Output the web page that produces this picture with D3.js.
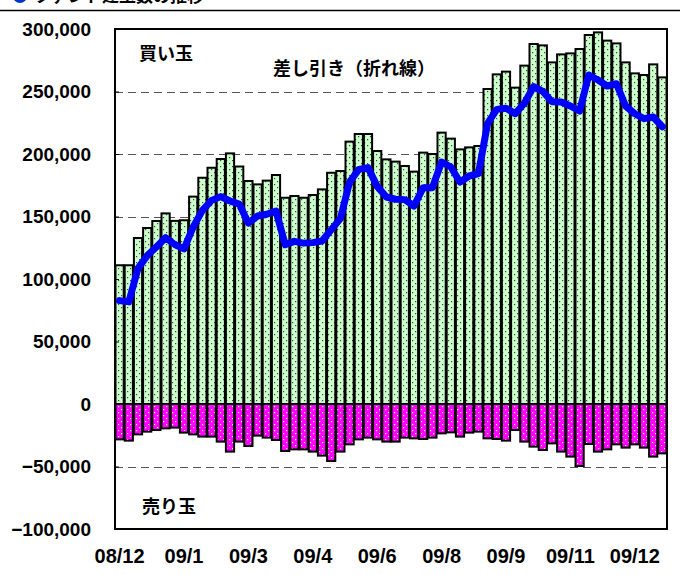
<!DOCTYPE html>
<html>
<head>
<meta charset="utf-8">
<script src="https://cdn.jsdelivr.net/npm/d3@7"></script>
<style>
  html, body { margin: 0; padding: 0; background: #fff; }
  svg { display: block; }
</style>
</head>
<body>
<div id="chart"></div>
<script>
// ---- data (weekly) ----
const buyPositions = [111000,111000,132800,140800,146400,152500,146500,147000,165900,181000,
  189000,196000,200500,190000,178400,175700,178700,183200,165000,166400,
  165000,167200,171700,185000,186400,209900,216000,216000,202400,195700,
  193900,190400,185900,201100,200000,217100,212300,203700,205300,206400,
  252000,263700,265900,253100,270700,288000,286900,273300,279700,280500,
  284000,295200,297300,290700,288500,273300,264500,263200,271700,261300];
const sellPositions = [-28300,-29300,-24300,-22100,-20800,-19500,-18900,-22900,-24300,-26100,
  -26100,-30100,-38100,-30100,-33600,-25300,-26900,-28800,-37600,-36300,
  -36300,-38100,-41300,-45600,-38100,-32300,-28300,-26900,-28300,-30100,
  -30100,-26900,-27500,-28000,-26900,-23500,-22700,-26100,-22900,-22100,
  -27500,-28000,-29300,-20800,-30100,-34100,-36800,-31500,-38100,-42100,
  -49600,-32000,-38100,-36300,-32300,-34900,-32300,-34900,-42100,-39500];
const netPositions = [82700,81700,108500,118700,125600,133000,127600,124100,141600,154900,
  162900,165900,162400,159900,144800,150400,151800,154400,127400,130100,
  128700,129100,130400,139400,148300,177600,187700,189100,174100,165600,
  163800,163500,158400,173100,173100,193600,189600,177600,182400,184300,
  224500,235700,236600,232300,240600,253900,250100,241800,241600,238400,
  234400,263200,259200,254400,256200,238400,232200,228300,229600,221800];
const weeks = d3.range(buyPositions.length);
const xTickIndex = [0, 7, 14, 21, 28, 35, 42, 49, 56];
const xTickLabels = ["08/12", "09/1", "09/3", "09/4", "09/6", "09/8", "09/9", "09/11", "09/12"];
const yTicks = [-100000, -50000, 0, 50000, 100000, 150000, 200000, 250000, 300000];
const labelBuy = "買い玉";
const labelSell = "売り玉";
const labelNet = "差し引き（折れ線）";
const titleText = "ファンド建玉数の推移";

// ---- layout ----
const W = 680, H = 575;
const mLeft = 115, mRight = 667, mTop = 29, mBottom = 529;

const svg = d3.select("#chart").append("svg").attr("width", W).attr("height", H);
const defs = svg.append("defs");

function dotPattern(id, bg, dot) {
  const p = defs.append("pattern").attr("id", id).attr("patternUnits", "userSpaceOnUse")
    .attr("width", 6).attr("height", 6);
  p.append("rect").attr("width", 6).attr("height", 6).attr("fill", bg);
  p.append("rect").attr("x", 1).attr("y", 1).attr("width", 1.2).attr("height", 1.2).attr("fill", dot);
  p.append("rect").attr("x", 4).attr("y", 4).attr("width", 1.2).attr("height", 1.2).attr("fill", dot);
}
dotPattern("pGreen", "#ccffcc", "#3a4a3a");
dotPattern("pMag", "#ff00ff", "#ffffff");

const x = d3.scaleBand().domain(weeks).range([mLeft, mRight]).padding(0);
const y = d3.scaleLinear().domain([-100000, 300000]).range([mBottom, mTop]);

// top title strip (cut off at the top edge in the reference)
svg.append("circle").attr("cx", 20).attr("cy", -4).attr("r", 7).attr("fill", "#0033cc");
svg.append("text").attr("x", 34).attr("y", 2)
  .attr("font-family", "'Noto Sans CJK JP', sans-serif").attr("font-weight", "bold")
  .attr("font-size", 17).attr("fill", "#000").text(titleText);
svg.append("line").attr("x1", 0).attr("x2", W).attr("y1", 10.5).attr("y2", 10.5)
  .attr("stroke", "#000").attr("stroke-width", 1.5);

// gridlines
svg.append("g").selectAll("line")
  .data(yTicks.filter(d => d !== 0 && d !== 300000 && d !== -100000))
  .join("line")
  .attr("x1", mLeft).attr("x2", mRight)
  .attr("y1", d => Math.round(y(d)) + 0.5).attr("y2", d => Math.round(y(d)) + 0.5)
  .attr("stroke", "#555").attr("stroke-width", 1).attr("stroke-dasharray", "8,5");

// bars
const bw = x.bandwidth();
svg.append("g").selectAll("rect")
  .data(weeks)
  .join("rect")
  .attr("x", i => x(i) + 0.5)
  .attr("width", bw - 1)
  .attr("y", i => y(buyPositions[i]))
  .attr("height", i => y(0) - y(buyPositions[i]))
  .attr("fill", "url(#pGreen)").attr("stroke", "#000").attr("stroke-width", 2);

svg.append("g").selectAll("rect")
  .data(weeks)
  .join("rect")
  .attr("x", i => x(i) + 0.5)
  .attr("width", bw - 1)
  .attr("y", y(0))
  .attr("height", i => y(sellPositions[i]) - y(0))
  .attr("fill", "url(#pMag)").attr("stroke", "#000").attr("stroke-width", 2);

// net line
const line = d3.line().x(i => x(i) + bw / 2).y(i => y(netPositions[i]));
svg.append("path").datum(weeks).attr("d", line)
  .attr("fill", "none").attr("stroke", "#0000ff").attr("stroke-width", 7)
  .attr("stroke-linejoin", "round").attr("stroke-linecap", "round");

// frame
svg.append("rect").attr("x", mLeft).attr("y", mTop).attr("width", mRight - mLeft).attr("height", mBottom - mTop)
  .attr("fill", "none").attr("stroke", "#000").attr("stroke-width", 2);

// y axis
const yAxis = d3.axisLeft(y).tickValues(yTicks).tickSize(-4).tickPadding(24)
  .tickFormat(d3.format(","));
const gy = svg.append("g").attr("transform", `translate(${mLeft},0)`).call(yAxis);
gy.select(".domain").remove();
gy.selectAll(".tick line").attr("stroke", "#000").attr("stroke-width", 1);
gy.selectAll(".tick text").attr("font-family", "'Liberation Sans', Arial, sans-serif")
  .attr("font-weight", "bold").attr("font-size", 19).attr("fill", "#000");

// x labels
const xAxis = d3.axisBottom(x).tickValues(xTickIndex).tickSize(0).tickPadding(20)
  .tickFormat(i => xTickLabels[xTickIndex.indexOf(i)]);
const gx = svg.append("g").attr("transform", `translate(0,${mBottom})`).call(xAxis);
gx.select(".domain").remove();
gx.selectAll(".tick text").attr("font-family", "'Liberation Sans', Arial, sans-serif")
  .attr("font-weight", "bold").attr("font-size", 20).attr("fill", "#000");

// annotations
const jp = "'Noto Sans CJK JP', sans-serif";
svg.append("text").attr("x", 139).attr("y", 60).attr("font-family", jp).attr("font-weight", "bold")
  .attr("font-size", 18).text(labelBuy);
svg.append("text").attr("x", 273).attr("y", 75).attr("font-family", jp).attr("font-weight", "bold")
  .attr("font-size", 18).text(labelNet);
svg.append("text").attr("x", 142).attr("y", 513).attr("font-family", jp).attr("font-weight", "bold")
  .attr("font-size", 18).text(labelSell);
</script>
</body>
</html>
